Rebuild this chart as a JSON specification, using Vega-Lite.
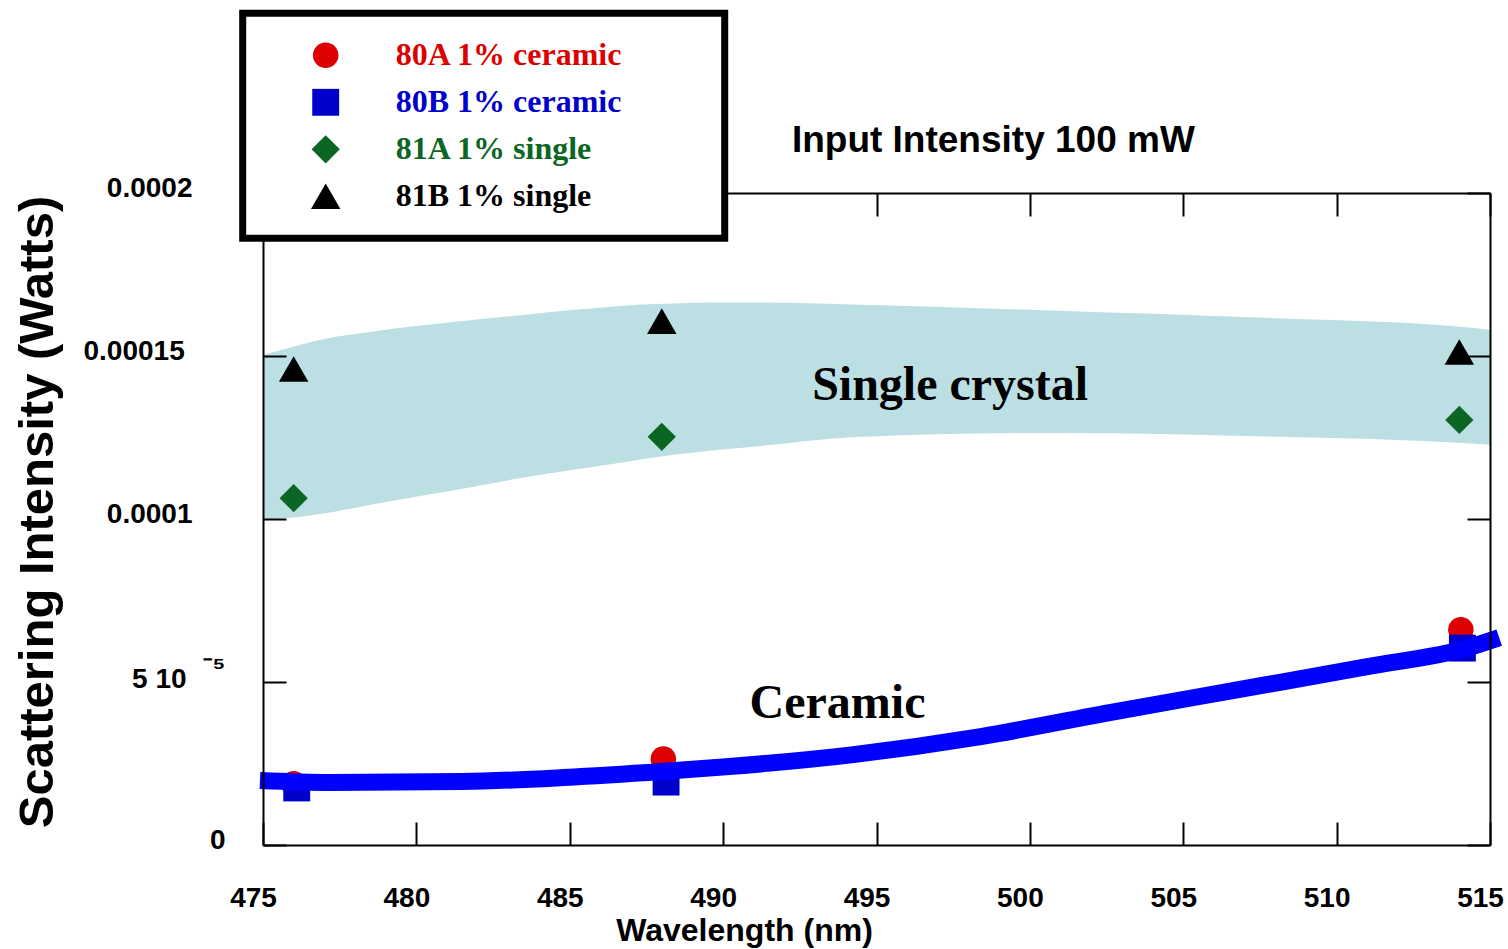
{
  "$schema": "https://vega.github.io/schema/vega-lite/v6.json",
  "width": 1227,
  "height": 652,
  "autosize": {"type": "none"},
  "padding": {"left": 263, "top": 193, "right": 18, "bottom": 104},
  "background": "white",
  "config": {"view": {"stroke": null}},
  "datasets": {
    "band": [
      {"x": 475.0, "upper": 0.0001503, "lower": 0.0000998},
      {"x": 476.2, "upper": 0.0001534, "lower": 0.0001007},
      {"x": 477.2, "upper": 0.0001556, "lower": 0.0001020},
      {"x": 478.5, "upper": 0.0001574, "lower": 0.0001044},
      {"x": 479.7, "upper": 0.0001589, "lower": 0.0001064},
      {"x": 481.0, "upper": 0.0001602, "lower": 0.0001084},
      {"x": 482.2, "upper": 0.0001614, "lower": 0.0001105},
      {"x": 483.5, "upper": 0.0001626, "lower": 0.0001127},
      {"x": 484.7, "upper": 0.0001638, "lower": 0.0001145},
      {"x": 486.0, "upper": 0.0001648, "lower": 0.0001163},
      {"x": 487.2, "upper": 0.0001657, "lower": 0.0001181},
      {"x": 488.4, "upper": 0.0001661, "lower": 0.0001197},
      {"x": 489.7, "upper": 0.0001664, "lower": 0.0001211},
      {"x": 491.0, "upper": 0.0001664, "lower": 0.0001222},
      {"x": 494.2, "upper": 0.0001658, "lower": 0.0001251},
      {"x": 500.9, "upper": 0.0001639, "lower": 0.0001264},
      {"x": 507.7, "upper": 0.0001617, "lower": 0.0001253},
      {"x": 514.5, "upper": 0.0001586, "lower": 0.0001231},
      {"x": 515.0, "upper": 0.0001580, "lower": 0.0001228}
    ],
    "points": [
      {"series": "80A 1% ceramic", "x": 476.0, "y": 0.0000188},
      {"series": "80A 1% ceramic", "x": 488.05, "y": 0.0000264},
      {"series": "80A 1% ceramic", "x": 514.05, "y": 0.0000660},
      {"series": "80B 1% ceramic", "x": 476.1, "y": 0.0000175},
      {"series": "80B 1% ceramic", "x": 488.14, "y": 0.0000193},
      {"series": "80B 1% ceramic", "x": 514.1, "y": 0.0000604},
      {"series": "81A 1% single", "x": 476.0, "y": 0.0001064},
      {"series": "81A 1% single", "x": 488.0, "y": 0.0001252},
      {"series": "81A 1% single", "x": 514.0, "y": 0.0001304},
      {"series": "81B 1% single", "x": 476.0, "y": 0.0001460},
      {"series": "81B 1% single", "x": 488.0, "y": 0.0001607},
      {"series": "81B 1% single", "x": 514.0, "y": 0.0001512}
    ],
    "fit": [
      {"x": 474.9, "y": 0.00001977},
      {"x": 477.2, "y": 0.00001916},
      {"x": 481.5, "y": 0.00001946},
      {"x": 484.8, "y": 0.00002069},
      {"x": 488.0, "y": 0.00002253},
      {"x": 490.2, "y": 0.00002406},
      {"x": 494.25, "y": 0.00002774},
      {"x": 498.4, "y": 0.00003326},
      {"x": 502.6, "y": 0.00004061},
      {"x": 506.8, "y": 0.00004766},
      {"x": 511.0, "y": 0.00005471},
      {"x": 514.3, "y": 0.00006054},
      {"x": 515.3, "y": 0.00006360}
    ],
    "serifNotes": [
      {"x": 497.40, "y": 0.00013655, "text": "Single crystal"},
      {"x": 493.73, "y": 0.00003908, "text": "Ceramic"}
    ],
    "sansNotes": [
      {"x": 498.81, "y": 0.00021257, "text": "Input Intensity 100 mW"}
    ]
  },
  "layer": [
    {
      "data": {"name": "band"},
      "mark": {"type": "area", "interpolate": "monotone", "color": "#BBDFE2", "opacity": 1},
      "encoding": {
        "x": {
          "field": "x", "type": "quantitative",
          "scale": {"domain": [475, 515], "nice": false, "zero": false},
          "axis": {
            "orient": "bottom", "values": [475, 480, 485, 490, 495, 500, 505, 510, 515], "format": "d",
            "grid": false, "zindex": 1,
            "domainColor": "black", "domainWidth": 2, "tickColor": "black", "tickWidth": 2, "tickSize": -23,
            "labelFont": "Liberation Sans", "labelFontSize": 28, "labelFontWeight": "bold", "labelColor": "black",
            "labelBaseline": "alphabetic", "labelPadding": 84, "labelOffset": -10, "labelFlush": false, "labelOverlap": false,
            "title": "Wavelength (nm)", "titleFont": "Liberation Sans", "titleFontSize": 32, "titleFontWeight": "bold",
            "titleColor": "black", "titleX": 481, "titleY": 95.5, "titleBaseline": "alphabetic", "titleAlign": "center"
          }
        },
        "y": {
          "field": "upper", "type": "quantitative",
          "scale": {"domain": [0, 0.0002], "nice": false, "zero": false},
          "axis": {
            "orient": "left", "values": [0, 0.00005, 0.0001, 0.00015, 0.0002],
            "grid": false, "zindex": 1,
            "domainColor": "black", "domainWidth": 2, "tickColor": "black", "tickWidth": 2, "tickSize": -23,
            "labelFont": "Liberation Sans", "labelFontSize": 28, "labelFontWeight": "bold", "labelColor": "black",
            "labelExpr": "datum.value == 0 ? '0' : datum.value == 0.00005 ? ['⁻⁵', '5 10\u00a0\u00a0\u00a0\u00a0\u00a0\u200b'] : datum.value == 0.0001 ? '0.0001' : datum.value == 0.00015 ? '0.00015\u00a0\u200b' : '0.0002'",
            "labelAlign": "right", "labelBaseline": "middle", "labelLineHeight": 11.5,
            "labelOffset": {"condition": {"test": "datum.value == 0.00005", "value": -14.25}, "value": -5},
            "labelPadding": {"condition": {"test": "datum.value <= 0.00005", "value": 61}, "value": 94},
            "labelFlush": false, "labelOverlap": false,
            "title": "Scattering Intensity (Watts)", "titleFont": "Liberation Sans", "titleFontSize": 49, "titleFontWeight": "bold",
            "titleColor": "black", "titleAngle": 270, "titleX": -211, "titleY": 318.5, "titleBaseline": "alphabetic", "titleAlign": "center"
          }
        },
        "y2": {"field": "lower"}
      }
    },
    {
      "data": {"name": "points"},
      "mark": {"type": "point", "filled": true, "opacity": 1, "strokeWidth": 0},
      "encoding": {
        "x": {
          "field": "x", "type": "quantitative",
          "scale": {"domain": [475, 515], "nice": false, "zero": false},
          "axis": {
            "orient": "top", "values": [475, 480, 485, 490, 495, 500, 505, 510, 515], "labels": false, "title": null,
            "grid": false, "zindex": 1,
            "domainColor": "black", "domainWidth": 2, "tickColor": "black", "tickWidth": 2, "tickSize": -23
          }
        },
        "y": {
          "field": "y", "type": "quantitative",
          "scale": {"domain": [0, 0.0002], "nice": false, "zero": false},
          "axis": {
            "orient": "right", "values": [0, 0.00005, 0.0001, 0.00015, 0.0002], "labels": false, "title": null,
            "grid": false, "zindex": 1,
            "domainColor": "black", "domainWidth": 2, "tickColor": "black", "tickWidth": 2, "tickSize": -23
          }
        },
        "color": {
          "field": "series", "type": "nominal",
          "scale": {"domain": ["80A 1% ceramic", "80B 1% ceramic", "81A 1% single", "81B 1% single"], "range": ["#DD0000", "#0000CC", "#0B6623", "#000000"]},
          "legend": {
            "orient": "none", "legendX": -20.3, "legendY": -179.7, "direction": "vertical", "title": null,
            "strokeColor": "black", "fillColor": "white", "padding": 26, "rowPadding": 15,
            "labelFont": "Liberation Serif", "labelFontSize": 32, "labelFontWeight": "bold", "labelLimit": 1000,
            "labelExpr": "datum.label + '\u00a0\u00a0\u00a0\u00a0\u00a0\u00a0\u00a0\u00a0\u00a0\u200a\u200b'",
            "symbolOffset": 41, "labelOffset": 54, "symbolStrokeWidth": 0, "symbolOpacity": 1, "zindex": 3,
            "encode": {
              "legend": {"update": {"strokeWidth": {"value": 7}}},
              "labels": {"update": {"fill": {"scale": "color", "field": "value"}}}
            }
          }
        },
        "shape": {
          "field": "series", "type": "nominal",
          "scale": {"domain": ["80A 1% ceramic", "80B 1% ceramic", "81A 1% single", "81B 1% single"], "range": ["circle", "square", "diamond", "triangle-up"]}
        },
        "size": {
          "field": "series", "type": "nominal",
          "scale": {"domain": ["80A 1% ceramic", "80B 1% ceramic", "81A 1% single", "81B 1% single"], "range": [650, 870, 530, 600]}
        }
      }
    },
    {
      "data": {"name": "fit"},
      "mark": {"type": "line", "interpolate": "monotone", "color": "#0000FF", "strokeWidth": 17, "strokeCap": "butt"},
      "encoding": {
        "x": {"field": "x", "type": "quantitative", "scale": {"domain": [475, 515], "nice": false, "zero": false}, "axis": null},
        "y": {"field": "y", "type": "quantitative", "scale": {"domain": [0, 0.0002], "nice": false, "zero": false}, "axis": null}
      }
    },
    {
      "data": {"name": "serifNotes"},
      "mark": {"type": "text", "font": "Liberation Serif", "fontSize": 48, "fontWeight": "bold", "color": "black", "align": "center", "baseline": "alphabetic"},
      "encoding": {
        "x": {"field": "x", "type": "quantitative", "scale": {"domain": [475, 515], "nice": false, "zero": false}, "axis": null},
        "y": {"field": "y", "type": "quantitative", "scale": {"domain": [0, 0.0002], "nice": false, "zero": false}, "axis": null},
        "text": {"field": "text"}
      }
    },
    {
      "data": {"name": "sansNotes"},
      "mark": {"type": "text", "font": "Liberation Sans", "fontSize": 37, "fontWeight": "bold", "color": "black", "align": "center", "baseline": "alphabetic"},
      "encoding": {
        "x": {"field": "x", "type": "quantitative", "scale": {"domain": [475, 515], "nice": false, "zero": false}, "axis": null},
        "y": {"field": "y", "type": "quantitative", "scale": {"domain": [0, 0.0002], "nice": false, "zero": false}, "axis": null},
        "text": {"field": "text"}
      }
    }
  ],
  "resolve": {"axis": {"x": "independent", "y": "independent"}}
}
